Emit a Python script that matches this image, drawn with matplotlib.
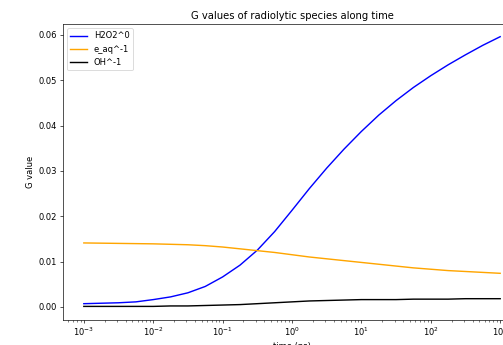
import numpy as np
import matplotlib
matplotlib.use("Agg")
import matplotlib.pyplot as plt

# time points (ps), quarter decades
time_ps = [0.001, 0.00178, 0.00316, 0.00562, 0.01, 0.0178, 0.0316, 0.0562, 0.1,
           0.178, 0.316, 0.562, 1.0, 1.78, 3.16, 5.62, 10.0, 17.8, 31.6, 56.2,
           100.0, 178.0, 316.0, 562.0, 1000.0]

# G values
g_h2o2 = [0.0007, 0.0008, 0.0009, 0.0011, 0.0016, 0.0022, 0.0031, 0.0045, 0.0066,
          0.0092, 0.0125, 0.0166, 0.0213, 0.0261, 0.0306, 0.0348, 0.0387, 0.0423,
          0.0455, 0.0484, 0.0510, 0.0534, 0.0556, 0.0577, 0.0596]
g_eaq = [0.0141, 0.01405, 0.0140, 0.01395, 0.0139, 0.0138, 0.0137, 0.0135, 0.0132,
         0.0128, 0.0124, 0.0120, 0.0115, 0.0110, 0.0106, 0.0102, 0.0098, 0.0094,
         0.0090, 0.0086, 0.0083, 0.0080, 0.0078, 0.0076, 0.0074]
g_oh = [0.0001, 0.0001, 0.0001, 0.0001, 0.0001, 0.0002, 0.0002, 0.0003, 0.0004,
        0.0005, 0.0007, 0.0009, 0.0011, 0.0013, 0.0014, 0.0015, 0.0016, 0.0016,
        0.0016, 0.0017, 0.0017, 0.0017, 0.0018, 0.0018, 0.0018]

labels = ["H2O2^0", "e_aq^-1", "OH^-1"]
colors = ["blue", "orange", "black"]

dpi = 60
fig = plt.figure(figsize=(503 / dpi, 345 / dpi), dpi=dpi)
# axes runs past the right edge, like the cropped original
ax = fig.add_axes([63 / 503, 25 / 345, 458 / 503, 296 / 345])

for vals, lab, col in zip([g_h2o2, g_eaq, g_oh], labels, colors):
    ax.plot(time_ps, vals, color=col, label=lab, lw=1.7)

ax.set_xscale("log")
ax.set_ylim(-0.0029, 0.0624)
ax.set_xlabel("time (ps)")
ax.set_ylabel("G value")
ax.set_title("G values of radiolytic species along time")
ax.legend(loc="upper left")

fig.savefig("out.png", dpi=dpi)
